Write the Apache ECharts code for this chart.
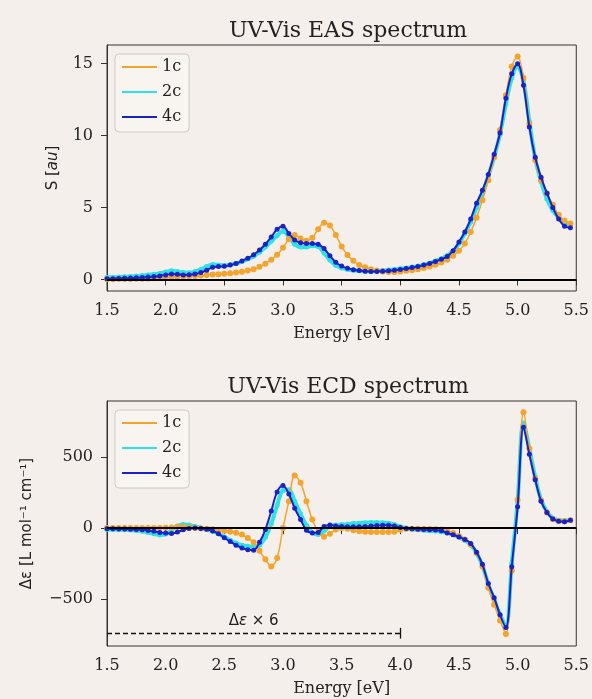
<!DOCTYPE html>
<html>
<head>
<meta charset="utf-8">
<script src="https://cdn.jsdelivr.net/npm/echarts@6/dist/echarts.min.js"></script>
<style>
html,body{margin:0;padding:0;background:#f5efeb;}
#c{width:592px;height:699px;}
</style>
</head>
<body>
<div id="c"></div>
<script>
// Energy grid (eV)
const energy = [1.50,1.55,1.60,1.65,1.70,1.75,1.80,1.85,1.90,1.95,
2.00,2.05,2.10,2.15,2.20,2.25,2.30,2.35,2.40,2.45,
2.50,2.55,2.60,2.65,2.70,2.75,2.80,2.85,2.90,2.95,
3.00,3.05,3.10,3.15,3.20,3.25,3.30,3.35,3.40,3.45,
3.50,3.55,3.60,3.65,3.70,3.75,3.80,3.85,3.90,3.95,
4.00,4.05,4.10,4.15,4.20,4.25,4.30,4.35,4.40,4.45,
4.50,4.55,4.60,4.65,4.70,4.75,4.80,4.85,4.90,4.95,
5.00,5.05,5.10,5.15,5.20,5.25,5.30,5.35,5.40,5.45];

// EAS spectrum S [au]
const eas1c = [0.02,0.02,0.03,0.03,0.04,0.05,0.06,0.07,0.09,0.11,
0.14,0.17,0.19,0.21,0.23,0.25,0.28,0.31,0.34,0.37,
0.40,0.43,0.48,0.54,0.62,0.72,0.88,1.10,1.38,1.72,
2.20,2.80,3.10,2.85,2.70,2.90,3.50,3.95,3.75,3.10,
2.30,1.70,1.30,1.00,0.85,0.72,0.62,0.55,0.52,0.52,
0.55,0.60,0.65,0.72,0.80,0.90,1.02,1.18,1.38,1.65,
2.00,2.50,3.30,4.30,5.50,6.90,8.50,10.40,12.80,14.80,
15.50,14.00,10.80,8.30,6.90,6.00,5.20,4.50,4.10,3.90];
const eas2c = [0.15,0.16,0.17,0.19,0.21,0.24,0.27,0.31,0.36,0.42,
0.52,0.60,0.55,0.48,0.47,0.55,0.70,0.90,1.05,1.00,
0.98,1.02,1.12,1.25,1.42,1.62,1.90,2.25,2.65,3.05,
3.35,3.00,2.45,2.25,2.25,2.35,2.30,1.85,1.35,0.98,
0.80,0.70,0.64,0.60,0.58,0.58,0.60,0.62,0.66,0.70,
0.75,0.80,0.86,0.93,1.02,1.13,1.28,1.45,1.66,1.98,
2.50,3.20,4.00,5.00,6.00,7.20,8.50,10.10,12.20,14.00,
14.80,13.80,11.00,8.40,6.80,5.60,4.80,4.30,3.90,3.80];
const eas4c = [0.05,0.06,0.07,0.08,0.10,0.12,0.14,0.17,0.20,0.25,
0.32,0.38,0.36,0.32,0.33,0.38,0.48,0.65,0.85,0.90,
0.92,1.00,1.12,1.28,1.48,1.72,2.05,2.45,2.95,3.50,
3.70,3.20,2.75,2.55,2.50,2.50,2.45,2.15,1.65,1.20,
0.93,0.78,0.68,0.62,0.58,0.56,0.56,0.57,0.60,0.64,
0.70,0.76,0.83,0.90,1.00,1.12,1.25,1.40,1.60,2.00,
2.60,3.30,4.20,5.30,6.20,7.30,8.70,10.20,12.60,14.30,
15.00,13.50,10.60,8.50,7.10,6.00,5.00,4.20,3.70,3.60];

// ECD spectrum Δε [L mol-1 cm-1]
const ecd1c = [0,0,0,0,0,0,0,0,0,0,
2,5,10,10,5,0,-2,-5,-8,-12,
-18,-25,-32,-45,-70,-100,-160,-220,-270,-210,
0,190,370,320,190,60,-25,-60,-40,-10,
0,-5,-15,-22,-26,-27,-27,-27,-27,-25,
-12,-5,-5,-5,-5,-6,-8,-10,-20,-35,
-55,-80,-115,-175,-270,-420,-540,-650,-745,-300,
200,815,560,350,195,110,65,50,48,55];
const ecd2c = [-10,-10,-11,-12,-14,-17,-22,-30,-40,-48,
-42,-15,15,25,22,12,0,-10,-22,-40,
-62,-85,-105,-120,-128,-132,-120,-65,30,160,
265,270,190,100,20,-30,-45,-20,15,22,
25,28,32,35,38,40,40,38,35,25,
10,0,-8,-12,-15,-18,-20,-25,-33,-45,
-62,-85,-118,-175,-265,-395,-505,-610,-690,-250,
190,740,560,360,200,115,70,55,52,58];
const ecd4c = [-5,-5,-6,-7,-8,-10,-12,-16,-22,-30,
-35,-38,-28,-12,-3,0,-2,-8,-20,-40,
-68,-95,-120,-140,-152,-155,-100,-10,120,255,
300,240,140,60,-15,-35,-30,12,22,15,
12,10,10,10,12,15,18,20,20,15,
5,-2,-5,-8,-10,-12,-14,-18,-35,-47,
-62,-80,-108,-170,-255,-390,-490,-610,-700,-272,
150,710,520,340,190,110,65,48,45,55];

// Tick labels and annotation
const xTicks = [1.5,2.0,2.5,3.0,3.5,4.0,4.5,5.0,5.5];
const easTicks = [0,5,10,15];
const ecdTicks = [-500,0,500];
const scaleNoteY = -740;
const scaleNoteX = [1.5, 4.0];
const seriesNames = ['1c','2c','4c'];

const colors = {'1c':'#f2a42c','2c':'#2fe2e4','4c':'#1a22c6'};
const widths = {'1c':1.5,'2c':4,'4c':2};
const symSizes = {'1c':6,'2c':5,'4c':5};

const serif = 'DejaVu Serif';
const sans = 'DejaVu Sans';
const grids = [
  {left:107, top:45, width:472, height:246},
  {left:107, top:401, width:472, height:245}
];
function pairs(arr){ return energy.map((e,i)=>[e,arr[i]]); }
function mkXAxis(gi){
  return {type:'value', gridIndex:gi, min:1.5, max:5.5, interval:0.5,
    name:'Energy [eV]', nameLocation:'middle', nameGap:35,
    nameTextStyle:{fontFamily:serif,fontSize:16,color:'#222'},
    axisLine:{show:true,lineStyle:{color:'#333',width:1}},
    axisTick:{show:true,length:6,lineStyle:{color:'#333'}},
    axisLabel:{fontFamily:serif,fontSize:16,color:'#222',margin:12,formatter:v=>v.toFixed(1)},
    splitLine:{show:false}};
}
function fmtMinus(v){ return String(v).replace('-','\u2212'); }

const data = {
  eas:{'1c':eas1c,'2c':eas2c,'4c':eas4c},
  ecd:{'1c':ecd1c,'2c':ecd2c,'4c':ecd4c}
};
const drawOrder = ['2c','1c','4c'];
const series = [];
['eas','ecd'].forEach((k,gi)=>{
  drawOrder.forEach(n=>{
    const s = {
      name:n, type:'line', xAxisIndex:gi, yAxisIndex:gi,
      data:pairs(data[k][n]), smooth:0.35,
      showSymbol:true, symbol:'circle', symbolSize:symSizes[n],
      lineStyle:{color:colors[n],width:widths[n]},
      itemStyle:{color:colors[n]},
      color:colors[n],
      z: n==='4c'?4:(n==='1c'?3:2),
      animation:false
    };
    if(n==='4c'){
      const ml = [{yAxis:0, lineStyle:{color:'#000',width:2,type:'solid'}, label:{show:false}}];
      if(k==='ecd'){
        ml.push([{coord:[scaleNoteX[0],scaleNoteY], lineStyle:{color:'#111',width:1.3,type:[5,3]},
                  label:{show:true,position:'middle',distance:5,
                    formatter:'{a|\u0394}{b|\u03b5}{a| \u00d7 6}',
                    rich:{a:{fontFamily:sans,fontSize:15,color:'#222'},b:{fontFamily:sans,fontSize:15,fontStyle:'italic',color:'#222'}}}},
                 {coord:[scaleNoteX[1],scaleNoteY]}]);
        ml.push([{coord:[scaleNoteX[1],scaleNoteY-38], lineStyle:{color:'#111',width:1.3,type:'solid'}, label:{show:false}},
                 {coord:[scaleNoteX[1],scaleNoteY+38]}]);
      }
      s.markLine = {silent:true, symbol:['none','none'], animation:false, z:10, data:ml};
    }
    series.push(s);
  });
});

const legendBase = {orient:'vertical', left:115, itemWidth:35, itemHeight:14, itemGap:9, itemTextGap:16,
  padding:[5,8,7,6], borderColor:'#cfcac6', borderWidth:1, borderRadius:4,
  backgroundColor:'rgba(248,244,240,0.85)',
  textStyle:{fontFamily:serif,fontSize:16,color:'#222'},
  itemStyle:{opacity:0}, data:seriesNames, selectedMode:false};

const option = {
  backgroundColor:'#f5efeb',
  animation:false,
  title:[
    {text:'UV-Vis EAS spectrum', left:343, top:15, textAlign:'center',
      textStyle:{fontFamily:serif,fontSize:22,fontWeight:'normal',color:'#222'}},
    {text:'UV-Vis ECD spectrum', left:343, top:371, textAlign:'center',
      textStyle:{fontFamily:serif,fontSize:22,fontWeight:'normal',color:'#222'}}
  ],
  legend:[Object.assign({top:54},legendBase), Object.assign({top:410},legendBase)],
  grid:grids.map(g=>Object.assign({show:true,borderColor:'#333',borderWidth:1,backgroundColor:'transparent',containLabel:false},g)),
  xAxis:[mkXAxis(0),mkXAxis(1)],
  yAxis:[
    {type:'value', gridIndex:0, min:-0.8, max:16.3,
      name:'{n|S [}{i|au}{n|]}', nameLocation:'middle', nameGap:46, nameRotate:90,
      nameTextStyle:{rich:{n:{fontFamily:sans,fontSize:15,color:'#222'},i:{fontFamily:sans,fontSize:15,fontStyle:'italic',color:'#222'}}},
      axisLine:{show:true,lineStyle:{color:'#333'}},
      axisTick:{show:true,length:6,lineStyle:{color:'#333'},customValues:easTicks},
      axisLabel:{fontFamily:serif,fontSize:16,color:'#222',margin:14,customValues:easTicks,formatter:fmtMinus},
      splitLine:{show:false}},
    {type:'value', gridIndex:1, min:-830, max:895,
      name:'\u0394\u03b5 [L mol\u207b\u00b9 cm\u207b\u00b9]', nameLocation:'middle', nameGap:72, nameRotate:90,
      nameTextStyle:{fontFamily:sans,fontSize:15,color:'#222'},
      axisLine:{show:true,lineStyle:{color:'#333'}},
      axisTick:{show:true,length:6,lineStyle:{color:'#333'},customValues:ecdTicks},
      axisLabel:{fontFamily:serif,fontSize:16,color:'#222',margin:14,customValues:ecdTicks,formatter:fmtMinus},
      splitLine:{show:false}}
  ],
  series:series
};
const chart = echarts.init(document.getElementById('c'),null,{renderer:'canvas'});
chart.setOption(option);
</script>
</body>
</html>
